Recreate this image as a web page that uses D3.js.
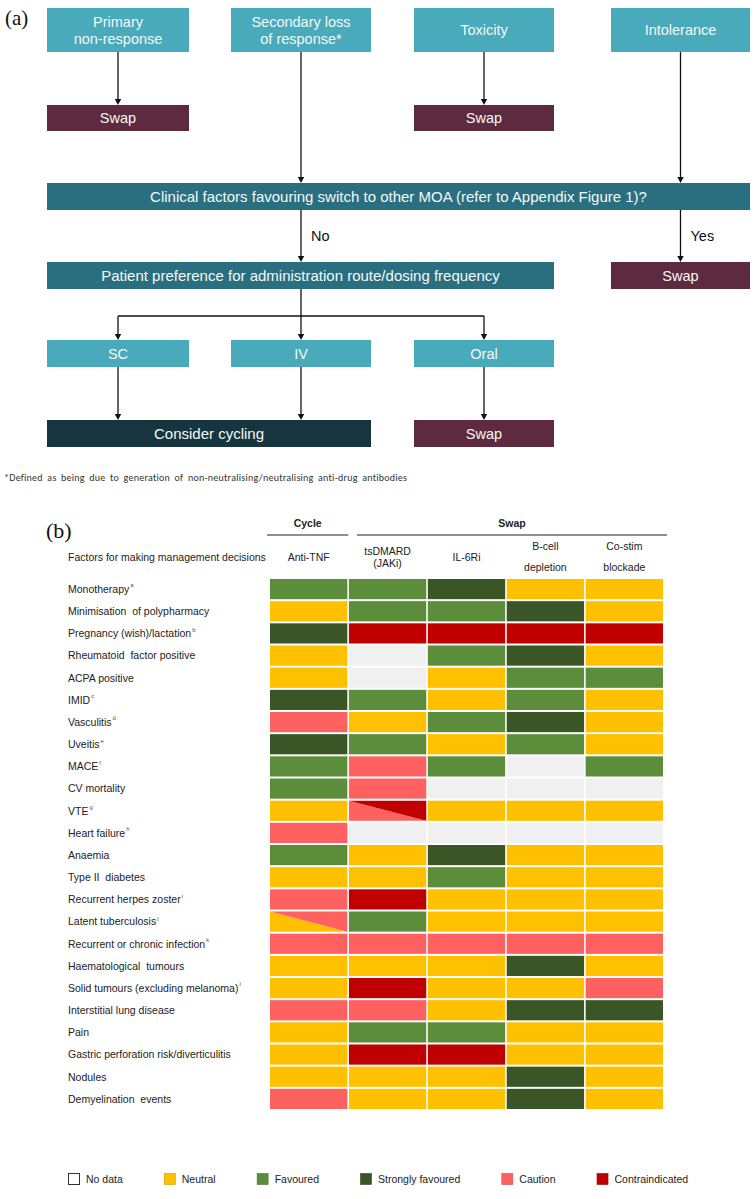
<!DOCTYPE html>
<html><head><meta charset="utf-8">
<script src="https://cdn.jsdelivr.net/npm/d3@7"></script>
<style>body{margin:0;background:#fff}svg{display:block}</style>
</head><body><svg id="c" width="756" height="1199"></svg>
<script>
// ---------------- data ----------------
const triggerLabels = [["Primary","non-response"],["Secondary loss","of response*"],["Toxicity"],["Intolerance"]];
const decisionLabel = "Clinical factors favouring switch to other MOA (refer to Appendix Figure 1)?";
const preferenceLabel = "Patient preference for administration route/dosing frequency";
const routeLabels = ["SC","IV","Oral"];
const swapLabel = "Swap";
const cycleLabel = "Consider cycling";
const branchLabels = ["No","Yes"];
const footnote = "*Defined as being due to generation of non-neutralising/neutralising anti-drug antibodies";

const factorLabels = ["Monotherapy","Minimisation  of polypharmacy","Pregnancy (wish)/lactation","Rheumatoid  factor positive","ACPA positive","IMID","Vasculitis","Uveitis","MACE","CV mortality","VTE","Heart failure","Anaemia","Type II  diabetes","Recurrent herpes zoster","Latent tuberculosis","Recurrent or chronic infection","Haematological  tumours","Solid tumours (excluding melanoma)","Interstitial lung disease","Pain","Gastric perforation risk/diverticulitis","Nodules","Demyelination  events"];
const factorSup = ["a","","b","","","c","d","e","f","","g","h","","","i","j","k","","l","","","","",""];
const columnLabels = [["Anti-TNF"],["tsDMARD","(JAKi)"],["IL-6Ri"],["B-cell","depletion"],["Co-stim","blockade"]];
const groupNames = ["Cycle","Swap"];
const groupSpans = [[0,0],[1,4]];
const headerTitle = "Factors for making management decisions";

// N no data, U neutral, F favoured, S strongly favoured, C caution, X contraindicated; "a/b" = split cell (lower-left a, upper-right b)
const antiTNF = ["F","U","S","U","U","S","C","S","F","F","U","C","F","U","C","U/C","C","U","U","C","U","U","U","C"];
const tsDMARD = ["F","F","X","N","N","F","U","F","C","C","C/X","N","U","U","X","F","C","U","X","C","F","X","U","U"];
const il6Ri   = ["S","F","X","F","U","U","F","U","F","N","U","N","S","F","U","U","C","U","U","U","F","X","U","U"];
const bCell   = ["U","S","X","S","F","F","S","F","N","N","U","N","U","U","U","U","C","S","U","S","U","U","S","S"];
const coStim  = ["U","U","X","U","F","U","U","U","F","N","U","N","U","U","U","U","C","U","C","S","U","U","U","U"];
const columnValues = [antiTNF, tsDMARD, il6Ri, bCell, coStim];

const legendKeys = ["N","U","F","S","C","X"];
const legendLabels = ["No data","Neutral","Favoured","Strongly favoured","Caution","Contraindicated"];

// ---------------- styles ----------------
const ratingColor = d3.scaleOrdinal()
  .domain(["N","U","F","S","C","X"])
  .range(["#f0f0f0","#ffc000","#5b8d3b","#3a5626","#ff6060","#c00000"]);
const C_LIGHT = "#49aabc", C_DARK = "#2a6f7f", C_MAROON = "#5e2a3f", C_DEEP = "#16353e";
const FONT = "'Liberation Sans', Arial, Helvetica, sans-serif";

const svg = d3.select("#c");

// ---------------- panel (a): flowchart ----------------
const colL = [47, 231, 414, 611], colR = [189, 371, 554, 750];
const colC = colL.map((l,i)=>(l+colR[i])/2);
const rowY = {trigger:[8,52], swap:[105,131], decision:[183,210], pref:[262,289], route:[340,367], outcome:[420,447]};
const branchY = 316;

const gA = svg.append("g");
gA.append("text").attr("x",5).attr("y",25).attr("font-family","'Liberation Serif', 'Times New Roman', serif")
  .attr("font-size",21).attr("fill","#111").text("(a)");

function box(x0,x1,yy,fill,lines,fs){
  gA.append("rect").attr("x",x0).attr("y",yy[0]).attr("width",x1-x0).attr("height",yy[1]-yy[0]).attr("fill",fill);
  const cy=(yy[0]+yy[1])/2, lh=17;
  lines.forEach((t,i)=>{
    gA.append("text").attr("x",(x0+x1)/2).attr("y",cy+(i-(lines.length-1)/2)*lh).attr("dy","0.36em")
      .attr("text-anchor","middle").attr("font-family",FONT).attr("font-size",fs||14.5)
      .attr("fill","#f4f8f8").text(t);
  });
}
function arrow(x,y0,y1){
  gA.append("line").attr("x1",x).attr("x2",x).attr("y1",y0).attr("y2",y1-5).attr("stroke","#111").attr("stroke-width",1.3);
  gA.append("path").attr("d",`M${x-3.2},${y1-6}L${x+3.2},${y1-6}L${x},${y1}Z`).attr("fill","#111");
}

triggerLabels.forEach((l,i)=>box(colL[i],colR[i],rowY.trigger,C_LIGHT,l));
[0,2].forEach(i=>box(colL[i],colR[i],rowY.swap,C_MAROON,[swapLabel]));
box(colL[0],colR[3],rowY.decision,C_DARK,[decisionLabel],15);
box(colL[0],colR[2],rowY.pref,C_DARK,[preferenceLabel],15);
box(colL[3],colR[3],rowY.pref,C_MAROON,[swapLabel]);
routeLabels.forEach((l,i)=>box(colL[i],colR[i],rowY.route,C_LIGHT,[l]));
box(colL[0],colR[1],rowY.outcome,C_DEEP,[cycleLabel],15);
box(colL[2],colR[2],rowY.outcome,C_MAROON,[swapLabel]);

arrow(colC[0],rowY.trigger[1],rowY.swap[0]);
arrow(colC[2],rowY.trigger[1],rowY.swap[0]);
arrow(colC[1],rowY.trigger[1],rowY.decision[0]);
arrow(colC[3],rowY.trigger[1],rowY.decision[0]);
arrow(colC[1],rowY.decision[1],rowY.pref[0]);
arrow(colC[3],rowY.decision[1],rowY.pref[0]);
[[1,0],[3,1]].forEach(([c,k])=>{
  gA.append("text").attr("x",colC[c]+10).attr("y",(rowY.decision[1]+rowY.pref[0])/2).attr("dy","0.36em")
    .attr("font-family",FONT).attr("font-size",14.5).attr("fill","#111").text(branchLabels[k]);
});
gA.append("line").attr("x1",colC[1]).attr("x2",colC[1]).attr("y1",rowY.pref[1]).attr("y2",branchY).attr("stroke","#111").attr("stroke-width",1.3);
gA.append("line").attr("x1",colC[0]).attr("x2",colC[2]).attr("y1",branchY).attr("y2",branchY).attr("stroke","#111").attr("stroke-width",1.3);
[0,1,2].forEach(i=>{arrow(colC[i],branchY,rowY.route[0]); arrow(colC[i],rowY.route[1],rowY.outcome[0]);});

gA.append("text").attr("x",4).attr("y",481).attr("font-family","Carlito, Calibri, 'Liberation Sans', sans-serif")
  .attr("font-size",10).attr("letter-spacing",0.25).attr("word-spacing",2).attr("fill","#333").text(footnote);

// ---------------- panel (b): heatmap ----------------
const gB = svg.append("g");
const x = d3.scaleBand().domain(d3.range(columnValues.length)).range([270,663]).paddingInner(0.02);
const y = d3.scaleBand().domain(d3.range(factorLabels.length)).range([579,1109]).paddingInner(0.09);

gB.append("text").attr("x",46).attr("y",538).attr("font-family","'Liberation Serif', 'Times New Roman', serif")
  .attr("font-size",22).attr("fill","#111").text("(b)");

// group headers
const groupExt = [[-3,1],[8,4]];
groupNames.forEach((g,i)=>{
  const a=x(groupSpans[i][0])+groupExt[i][0], b=x(groupSpans[i][1])+x.bandwidth()+groupExt[i][1];
  gB.append("text").attr("x",(a+b)/2).attr("y",527).attr("text-anchor","middle").attr("font-family",FONT)
    .attr("font-weight","bold").attr("font-size",10.5).attr("fill","#222").text(g);
  gB.append("line").attr("x1",a).attr("x2",b).attr("y1",535).attr("y2",535).attr("stroke","#222").attr("stroke-width",1.2);
});
gB.append("text").attr("x",68).attr("y",561).attr("font-family",FONT).attr("font-size",10.5).attr("fill","#222").text(headerTitle);
const headerGap = [0,12,0,21,21];
columnLabels.forEach((lines,c)=>{
  lines.forEach((t,i)=>{
    gB.append("text").attr("x",x(c)+x.bandwidth()/2).attr("y",557+(i-(lines.length-1)/2)*headerGap[c]).attr("dy","0.36em")
      .attr("text-anchor","middle").attr("font-family",FONT).attr("font-size",10.5).attr("fill","#222").text(t);
  });
});

// row labels
factorLabels.forEach((l,r)=>{
  const t = gB.append("text").attr("x",68).attr("y",y(r)+y.bandwidth()/2).attr("dy","0.36em")
    .attr("font-family",FONT).attr("font-size",10.5).attr("fill","#222").attr("xml:space","preserve");
  t.append("tspan").text(l);
  if(factorSup[r]) t.append("tspan").attr("font-size",6).attr("dy","-0.9em").attr("dx",1).attr("fill","#555").text(factorSup[r]);
});

// cells
columnValues.forEach((vals,c)=>{
  vals.forEach((v,r)=>{
    const x0=x(c), x1=x(c)+x.bandwidth(), y0=y(r), y1=y(r)+y.bandwidth();
    if(v.includes("/")){
      const [lo,hi]=v.split("/");
      gB.append("path").attr("d",`M${x0},${y0}L${x0},${y1}L${x1},${y1}Z`).attr("fill",ratingColor(lo));
      gB.append("path").attr("d",`M${x0},${y0}L${x1},${y0}L${x1},${y1}Z`).attr("fill",ratingColor(hi));
    } else {
      gB.append("rect").attr("x",x0).attr("y",y0).attr("width",x1-x0).attr("height",y1-y0).attr("fill",ratingColor(v));
    }
  });
});

// legend
let lx = 68;
const ly = 1173;
legendKeys.forEach((k,i)=>{
  gB.append("rect").attr("x",lx+0.5).attr("y",ly+0.5).attr("width",11).attr("height",11)
    .attr("fill",k==="N"?"#fff":ratingColor(k)).attr("stroke",k==="N"?"#333":d3.color(ratingColor(k)).darker(0.6)).attr("stroke-width",k==="N"?1:0.6);
  const t = gB.append("text").attr("x",lx+18).attr("y",ly+6).attr("dy","0.36em").attr("font-family",FONT)
    .attr("font-size",10.5).attr("fill","#222").text(legendLabels[i]);
  lx += 18 + t.node().getComputedTextLength() + 41;
});
</script></body></html>
